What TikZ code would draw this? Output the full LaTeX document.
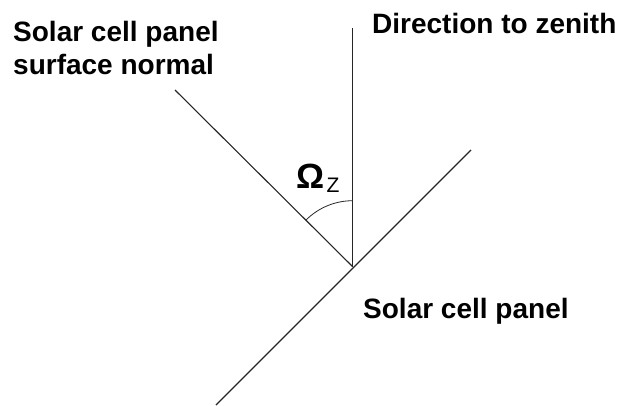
\documentclass[tikz,border=0pt]{standalone}
\usepackage{fontspec}
\setmainfont{Liberation Sans}
\tikzset{
  label text/.style={font=\fontsize{28}{33.5}\selectfont\bfseries, inner sep=0pt, align=left},
  thin line/.style={line width=1.1pt, black!85}
}
\begin{document}
\begin{tikzpicture}[x=1pt, y=1pt]
    \useasboundingbox (0,0) rectangle (621,405);

    % --- 1. Punkte ---
    \coordinate (O) at (352.7,138.3);        % Schnittpunkt
    \coordinate (zenith) at (352.7,376.7);   % oberes Ende Zenit
    \coordinate (normal) at (175,315);       % oberes Ende Normale
    \coordinate (panelTop) at (471,255);
    \coordinate (panelBot) at (216,0);

    % --- 2. Linien ---
    \draw[thin line] (O) -- (zenith);
    \draw[thin line] (O) -- (normal);
    \draw[thin line] (panelBot) -- (panelTop);

    % --- 3. Winkel ---
    \draw[line width=0.8pt, black!85] ([shift={(90:66)}]O) arc (90:135:66);
    \node[anchor=base west, inner sep=0pt, font=\fontsize{35}{40}\selectfont\bfseries] (omega) at (296,217) {Ω};
    \node[anchor=base west, inner sep=0pt, font=\fontsize{21}{24}\selectfont] (omegaZ) at ([shift={(2,-4)}]omega.base east) {Z};

    % --- 4. Beschriftung ---
    \node[label text, anchor=base west] (normalText) at (13,330) {Solar cell panel\\surface normal};
    \node[label text, anchor=base west] (zenithText) at (372,371.7) {Direction to zenith};
    \node[label text, anchor=base west] (panelText) at (363,87) {Solar cell panel};
\end{tikzpicture}
\end{document}
